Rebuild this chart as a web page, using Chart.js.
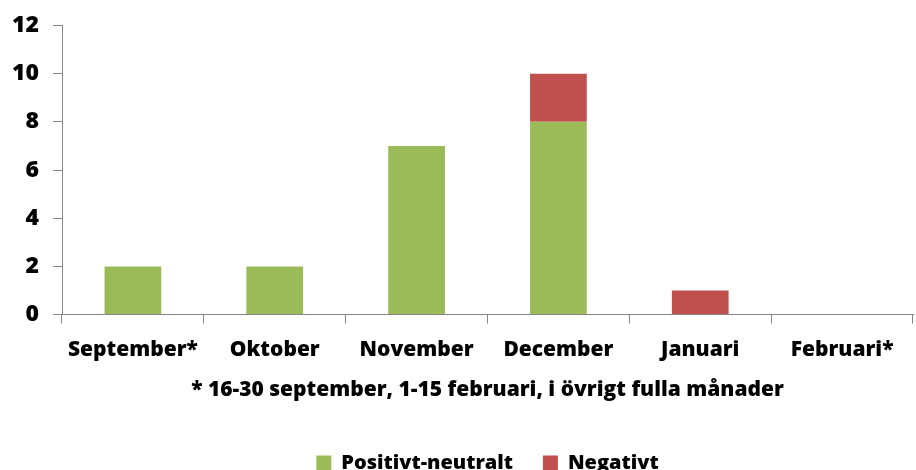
<!DOCTYPE html>
<html>
<head>
<meta charset="utf-8">
<script src="https://cdn.jsdelivr.net/npm/chart.js@4"></script>
<style>
  html, body { margin: 0; padding: 0; background: #fff; }
  #wrap { width: 916px; height: 470px; position: relative; }
</style>
</head>
<body>
<div id="wrap"><canvas id="c" width="916" height="470"></canvas></div>
<script>
// Monthly counts, stacked per month
const months = ['September*', 'Oktober', 'November', 'December', 'Januari', 'Februari*'];
const positivtNeutralt = [2, 2, 7, 8, 0, 0];
const negativt = [0, 0, 0, 2, 1, 0];
const footnote = '* 16-30 september, 1-15 februari, i övrigt fulla månader';

const FONT = "'Open Sans', Lato, 'Liberation Sans', sans-serif";
const WEIGHT = '800';
const axisColor = '#868686';

new Chart(document.getElementById('c'), {
  type: 'bar',
  data: {
    labels: months,
    datasets: [
      { label: 'Positivt-neutralt', data: positivtNeutralt, backgroundColor: '#9BBB59',
        barPercentage: 0.4, categoryPercentage: 1.0 },
      { label: 'Negativt', data: negativt, backgroundColor: '#C0504D',
        barPercentage: 0.4, categoryPercentage: 1.0 }
    ]
  },
  options: {
    responsive: false,
    animation: false,
    layout: { padding: { top: 24, right: 3, left: 0, bottom: -13 } },
    plugins: {
      tooltip: { enabled: false },
      legend: {
        position: 'bottom',
        fullSize: false,
        labels: {
          boxWidth: 15, boxHeight: 15, padding: 30,
          color: '#000',
          font: { family: FONT, size: 20, weight: WEIGHT }
        }
      }
    },
    scales: {
      x: {
        stacked: true,
        border: { display: true, color: axisColor, width: 1 },
        grid: { display: true, drawOnChartArea: false, drawTicks: true, tickLength: 9, color: axisColor, offset: true },
        ticks: { color: '#000', padding: 14, font: { family: FONT, size: 21, weight: WEIGHT }, maxRotation: 0 },
        title: {
          display: true, text: footnote, color: '#000',
          font: { family: FONT, size: 21, weight: WEIGHT },
          padding: { top: 1, bottom: 20 }
        }
      },
      y: {
        stacked: true,
        min: 0, max: 12,
        border: { display: true, color: axisColor, width: 1 },
        grid: { display: true, drawOnChartArea: false, drawTicks: true, tickLength: 9, color: axisColor },
        ticks: { stepSize: 2, color: '#000', padding: 14, font: { family: FONT, size: 23, weight: WEIGHT, lineHeight: 1 } },
        afterFit: (s) => { s.width = 62; }
      }
    }
  }
});
</script>
</body>
</html>
